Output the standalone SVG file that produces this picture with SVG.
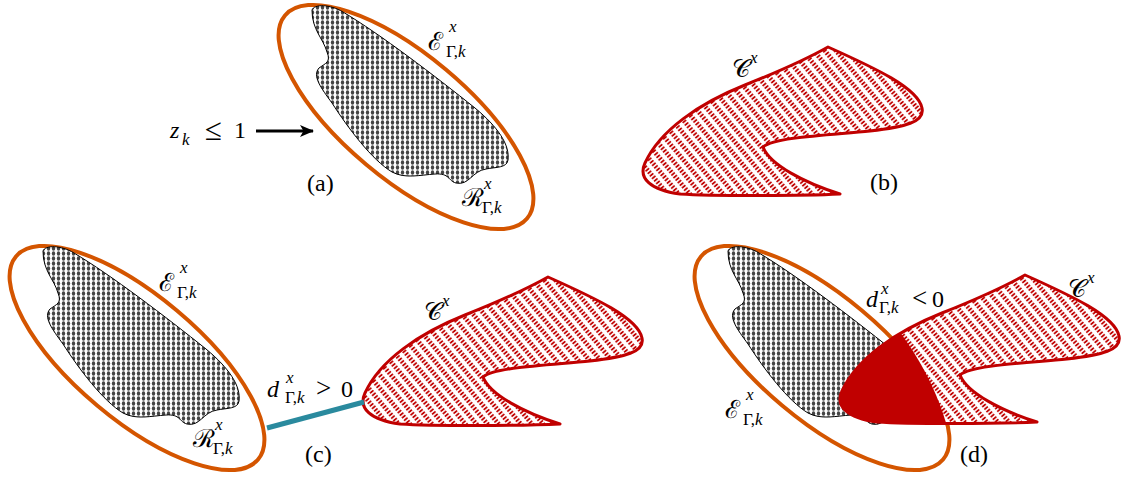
<svg xmlns="http://www.w3.org/2000/svg" width="1122" height="479" viewBox="0 0 1122 479">
<style>
  .ell{fill:none;stroke:#d45500;stroke-width:4}
  .blob{fill:url(#dots);stroke:#000;stroke-width:1}
  .cbg{fill:#fff}
  .chatch{fill:url(#hatch)}
  .cline{fill:none;stroke:#c00000;stroke-width:3;stroke-linejoin:round}
  .t{font-family:"Liberation Serif","Times New Roman",serif;fill:#000}
  .big{font-size:25px}
  .it{font-style:italic}
  .sup{font-size:17px;font-style:italic}
  .sub{font-size:17px}
  .lab{font-size:24px}
  .rel{font-size:27px}
</style>
<defs>
  <pattern id="dots" width="5" height="5" patternUnits="userSpaceOnUse">
    <rect width="5" height="5" fill="#fff"/>
    <ellipse cx="2.5" cy="2.5" rx="1.7" ry="2.2" fill="#444"/>
  </pattern>
  <pattern id="hatch" width="3.3" height="8.5" patternUnits="userSpaceOnUse" patternTransform="rotate(50)">
    <line x1="1.65" y1="2" x2="1.65" y2="6.5" stroke="#c00000" stroke-width="1.8"/>
  </pattern>
  <path id="blobp" d="M 312,10 C 314,4 330,4 343,12 C 380,34 435,76 475,108 C 498,127 510,145 508,160 C 507,168 496,167 486,169 C 472,171 469,186 456,183 C 448,181 450,173 435,174 C 420,175 405,179 392,172 C 372,160 348,128 332,103 C 321,88 312,76 319,68 C 326,63 331,62 327,52 C 323,38 312,30 312,10 Z"/>
  <path id="cp" d="M 828,47 C 875,68 918,88 922,108 C 925,122 905,127 870,131 C 830,135 775,137 763,147 C 770,165 805,183 840,194 C 800,196 710,196 680,194 C 650,190 638,178 645,163 C 660,130 700,103 745,85 C 775,73 805,60 828,47 Z"/>
  <clipPath id="solidclip">
    <path d="M 600,90 L 692,90 C 712,115 737,150 752,205 L 600,205 Z"/>
  </clipPath>
  <marker id="ah" markerWidth="14" markerHeight="12" refX="13" refY="6" orient="auto" markerUnits="userSpaceOnUse">
    <path d="M0,0 L14,6 L0,12 L3.5,6 Z" fill="#000"/>
  </marker>
</defs>

<!-- Panel (a) -->
<g id="ellipse-a">
  <ellipse class="ell" cx="406" cy="117" rx="158" ry="62" transform="rotate(40 406 117)"/>
</g>
<g id="region-a">
  <use href="#blobp" class="blob"/>
</g>
<g id="label-a">
  <text class="t big" x="428" y="50">ℰ</text>
  <text class="t sup" x="449" y="32">x</text>
  <text class="t sub" x="446" y="57">Γ,<tspan class="it">k</tspan></text>
  <text class="t big" x="462" y="206">ℛ</text>
  <text class="t sup" x="484" y="189">x</text>
  <text class="t sub" x="482" y="213">Γ,<tspan class="it">k</tspan></text>
  <text class="t lab it" x="170" y="138">z</text>
  <text class="t sub it" x="182" y="145">k</text>
  <text class="t" font-size="31" x="205" y="140">≤</text>
  <text class="t lab" x="234" y="138">1</text>
  <text class="t lab" x="307" y="191">(a)</text>
</g>

<!-- Panel (b) -->
<g id="cset-b">
  <use href="#cp" class="cbg"/>
  <use href="#cp" class="chatch"/>
  <use href="#cp" class="cline"/>
  <text class="t big" x="732" y="77">𝒞</text>
  <text class="t sup" x="750" y="63">x</text>
  <text class="t lab" x="870" y="190">(b)</text>
</g>

<!-- Panel (c) -->
<g id="ellipse-c" transform="translate(-269,241)">
  <ellipse class="ell" cx="406" cy="117" rx="158" ry="62" transform="rotate(40 406 117)"/>
</g>
<g id="region-c" transform="translate(-269,241)">
  <use href="#blobp" class="blob"/>
</g>
<g id="label-c">
  <text class="t big" x="159" y="291">ℰ</text>
  <text class="t sup" x="180" y="273">x</text>
  <text class="t sub" x="177" y="298">Γ,<tspan class="it">k</tspan></text>
  <text class="t big" x="193" y="447">ℛ</text>
  <text class="t sup" x="215" y="430">x</text>
  <text class="t sub" x="213" y="454">Γ,<tspan class="it">k</tspan></text>
  <text class="t lab" x="305" y="462">(c)</text>
</g>
<g id="cset-c" transform="translate(-280,230)">
  <use href="#cp" class="cbg"/>
  <use href="#cp" class="chatch"/>
  <use href="#cp" class="cline"/>
</g>
<g id="clabel-c">
  <text class="t big" x="424" y="320">𝒞</text>
  <text class="t sup" x="442" y="306">x</text>
  <text class="t lab it" x="267" y="397">d</text>
  <text class="t sup" x="286" y="383">x</text>
  <text class="t sub" x="285" y="403">Γ,<tspan class="it">k</tspan></text>
  <text class="t rel" x="316" y="397">&gt;</text>
  <text class="t lab" x="341" y="397">0</text>
</g>

<!-- Panel (d) -->
<g id="ellipse-d" transform="translate(416,241)">
  <ellipse class="ell" cx="406" cy="117" rx="158" ry="62" transform="rotate(40 406 117)"/>
</g>
<g id="region-d" transform="translate(416,241)">
  <use href="#blobp" class="blob"/>
</g>
<g id="cset-d" transform="translate(197,228)">
  <use href="#cp" class="cbg"/>
  <use href="#cp" class="chatch"/>
  <use href="#cp" fill="#c00000" clip-path="url(#solidclip)"/>
  <use href="#cp" class="cline"/>
</g>
<g id="label-d">
  <text class="t lab it" x="866" y="307">d</text>
  <text class="t sup" x="881" y="294">x</text>
  <text class="t sub" x="879" y="313">Γ,<tspan class="it">k</tspan></text>
  <text class="t rel" x="912" y="307">&lt;</text>
  <text class="t lab" x="932" y="307">0</text>
  <text class="t big" x="1068" y="297">𝒞</text>
  <text class="t sup" x="1087" y="283">x</text>
  <text class="t big" x="725" y="418">ℰ</text>
  <text class="t sup" x="746" y="400">x</text>
  <text class="t sub" x="743" y="425">Γ,<tspan class="it">k</tspan></text>
  <text class="t lab" x="960" y="462">(d)</text>
</g>

<g id="connectors">
  <line x1="256" y1="131" x2="313" y2="131" stroke="#000" stroke-width="3" marker-end="url(#ah)"/>
  <line x1="267" y1="428" x2="364" y2="402" stroke="#2a8a9e" stroke-width="5"/>
</g>
</svg>
